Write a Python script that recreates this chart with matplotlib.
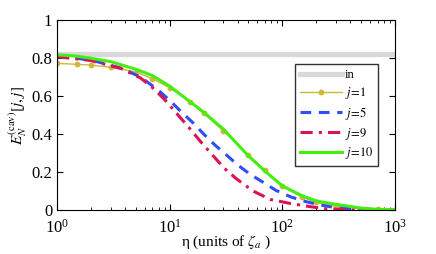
import numpy as np
import matplotlib
matplotlib.use('Agg')
import matplotlib.pyplot as plt

plt.rcParams['font.family'] = 'serif'
plt.rcParams['font.serif'] = ['Liberation Serif', 'DejaVu Serif']
plt.rcParams['mathtext.fontset'] = 'stix'

# ===== data =====
E_in = 0.82

eta_j1 = [1, 1.5, 2, 3, 5, 7, 10, 15, 20, 30, 50, 70, 100, 150, 200, 300, 500, 700, 1000]
E_j1 = [0.772, 0.767, 0.763, 0.751, 0.728, 0.691, 0.644, 0.571, 0.509, 0.416, 0.289, 0.21, 0.126,
        0.068, 0.04, 0.02, 0.008, 0.003, 0.001]

eta_j5 = [1, 1.5, 2.17, 3.75, 5.5, 7.4, 8.2, 10.4, 12.9, 16.3, 20, 25, 32, 40, 52, 68, 88, 119,
          160, 216, 300, 500, 1000]
E_j5 = [0.807, 0.799, 0.784, 0.746, 0.70, 0.644, 0.623, 0.567, 0.512, 0.456, 0.40, 0.344, 0.289,
        0.238, 0.187, 0.145, 0.103, 0.069, 0.045, 0.027, 0.012, 0.003, 0.0]

eta_j9 = [1, 2, 3.75, 5.5, 6.9, 9.1, 11.5, 15, 18.8, 23.5, 30.5, 39, 55, 78, 117, 176, 248, 400, 1000]
E_j9 = [0.807, 0.787, 0.744, 0.695, 0.649, 0.579, 0.509, 0.43, 0.36, 0.295, 0.22, 0.165, 0.10,
        0.056, 0.035, 0.018, 0.006, 0.002, 0.0]

eta_j10 = [1, 1.5, 2, 3, 5, 7, 10, 15, 20, 30, 50, 70, 100, 150, 200, 300, 500, 700, 1000]
E_j10 = [0.817, 0.810, 0.799, 0.781, 0.741, 0.708, 0.652, 0.572, 0.515, 0.425, 0.285, 0.205, 0.127,
         0.075, 0.048, 0.03, 0.01, 0.004, 0.001]

fig = plt.figure(figsize=(4.36, 2.54), dpi=100)
ax = fig.add_axes([0.131, 0.173, 0.775, 0.748])

ax.axhline(E_in, color='#d9d9d9', lw=3.8, label='in')
ax.plot(eta_j1, E_j1, '-', color='#cdb83a', lw=1.0, marker='o', ms=3.2, label=r'$\mathit{j\!=\!1}$')
ax.plot(eta_j5, E_j5, '--', color='#2f4dff', lw=2.2, dashes=(3.5, 2.5), label=r'$\mathit{j\!=\!5}$')
ax.plot(eta_j9, E_j9, '-.', color='#dd1155', lw=2.2, dashes=(4, 2, 1, 2), label=r'$\mathit{j\!=\!9}$')
ax.plot(eta_j10, E_j10, '-', color='#44ee11', lw=2.2, label=r'$\mathit{j\!=\!10}$')

ax.set_xscale('log')
ax.set_xlim(1, 1000)
ax.set_ylim(0, 1)
ax.set_yticks([0, 0.2, 0.4, 0.6, 0.8, 1])
ax.set_yticklabels(['0', '0.2', '0.4', '0.6', '0.8', '1'])
ax.tick_params(which='both', direction='in', top=True, right=True, labelsize=12)
ax.tick_params(which='major', length=4)
ax.tick_params(which='minor', length=2)
ax.tick_params(axis='x', pad=6)
ax.set_xlabel(r'η (units of $\zeta_a$ )', fontsize=11, labelpad=-2)
ax.set_ylabel(r'$E_N^{\rm (cav)}[j,j]$', fontsize=11, labelpad=2)

leg = ax.legend(loc='upper right', bbox_to_anchor=(0.968, 0.8), fontsize=9,
                fancybox=False, edgecolor='#333333', framealpha=1,
                handlelength=3.3, handletextpad=0.25, labelspacing=0.3, borderpad=0.4)
leg.get_frame().set_linewidth(1.0)

plt.savefig('out.png', dpi=100)
